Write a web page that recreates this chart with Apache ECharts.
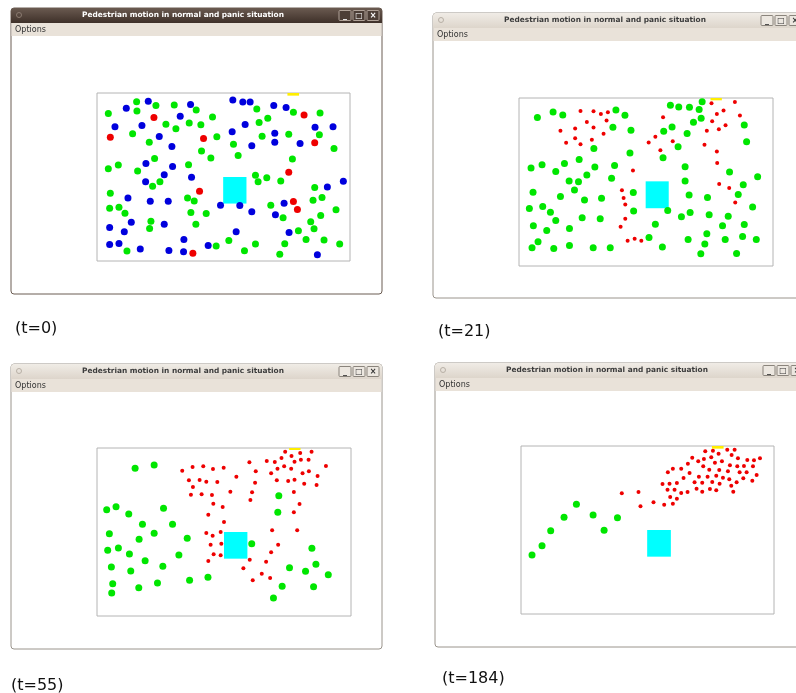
<!DOCTYPE html>
<html>
<head>
<meta charset="utf-8">
<script src="https://cdn.jsdelivr.net/npm/echarts@6/dist/echarts.min.js"></script>
<style>
html, body { margin: 0; padding: 0; background: #fff; }
#chart { width: 796px; height: 693px; }
</style>
</head>
<body>
<div id="chart"></div>
<script>
// snapshot labels
var times = ['(t=0)', '(t=21)', '(t=55)', '(t=184)']

// room extent for each snapshot [xmin, xmax, ymin, ymax] (screen units, y down)
var roomExtent = [
  [8, 768, 14, 520],
  [10, 770, 14, 520],
  [10, 770, 16, 520],
  [12, 770, 18, 522]
]
// obstacle (cyan) [x1, y1, x2, y2]
var obstacle = [
  [387, 267, 457, 347],
  [389, 265, 458, 346],
  [390, 268, 460, 348],
  [390, 270, 461, 350]
]
// exit door (yellow) [x1, y1, x2, y2]
var exitDoor = [
  [580, 8, 615, 22],
  [583, 8, 617, 21],
  [585, 10, 619, 22],
  [584, 12, 619, 26]
]

// t=0
var green0 = [[127,40],[185,52],[240,50],[42,76],[128,68],[306,65],[355,86],[488,62],[598,72],[678,74],[215,108],[285,104],[320,110],[245,122],[495,103],[521,90],[115,137],[165,162],[368,146],[418,168],[504,144],[584,138],[676,140],[720,181],[322,189],[350,210],[432,202],[181,211],[595,213],[42,242],[72,231],[130,249],[283,230],[484,262],[518,269],[492,281],[560,279],[175,295],[197,281],[48,316],[662,299],[280,330],[300,339],[684,329],[657,337],[46,361],[74,358],[92,376],[290,374],[336,377],[530,352],[726,366],[567,390],[680,383],[170,400],[166,422],[305,409],[650,402],[660,423],[613,429],[404,458],[636,455],[484,469],[572,468],[690,457],[737,469],[98,490],[366,475],[451,489],[557,500]]
var blue0 = [[162,39],[96,60],[289,49],[416,35],[446,41],[468,41],[539,52],[576,58],[258,84],[62,116],[143,112],[453,109],[663,117],[717,116],[195,145],[414,131],[542,135],[542,162],[618,166],[473,173],[233,175],[155,226],[235,235],[210,260],[292,268],[154,281],[700,297],[748,280],[101,330],[168,340],[222,340],[379,352],[437,353],[570,346],[473,372],[544,381],[111,403],[210,409],[46,419],[90,432],[426,432],[585,434],[269,455],[46,470],[74,467],[138,484],[224,488],[268,492],[342,473],[670,501]]
var red0 = [[179,88],[630,80],[48,147],[328,151],[662,164],[584,253],[316,310],[598,341],[610,365],[296,497]]

// t=21
var green1 = [[65,73],[112,56],[141,65],[300,50],[327,66],[463,36],[488,41],[520,42],[549,49],[558,25],[555,75],[532,87],[468,101],[443,114],[513,121],[684,95],[291,102],[345,111],[486,161],[691,146],[234,166],[342,180],[441,194],[46,225],[79,215],[146,211],[190,199],[237,222],[296,217],[120,235],[213,246],[160,264],[188,266],[287,256],[507,221],[507,264],[640,237],[724,251],[681,275],[52,298],[134,311],[176,291],[206,321],[257,316],[352,299],[519,306],[574,314],[666,305],[41,347],[81,341],[104,358],[120,383],[199,375],[253,378],[353,354],[455,353],[496,372],[522,359],[579,366],[636,370],[709,342],[53,399],[93,413],[161,407],[418,394],[619,399],[684,395],[572,423],[67,447],[49,465],[114,467],[161,458],[232,465],[283,465],[399,434],[439,463],[516,440],[566,454],[627,440],[679,431],[720,440],[554,483],[661,482]]
var red1 = [[194,53],[233,54],[255,62],[276,57],[213,86],[272,82],[134,113],[178,106],[233,103],[263,122],[178,135],[151,149],[194,153],[228,140],[441,72],[418,131],[398,148],[470,144],[433,171],[586,30],[656,26],[602,62],[622,52],[671,67],[588,84],[628,96],[608,108],[572,113],[565,155],[602,175],[603,210],[351,232],[318,292],[323,315],[328,335],[328,378],[314,402],[335,444],[356,438],[376,444],[609,273],[639,285],[657,329]]

// t=55
var green2 = [[124,77],[181,67],[39,201],[67,192],[105,214],[209,197],[146,245],[236,245],[47,273],[181,272],[136,290],[280,287],[42,323],[74,316],[107,334],[154,354],[255,337],[53,373],[111,385],[207,371],[57,423],[135,435],[191,421],[287,413],[342,404],[54,451],[554,159],[551,209],[473,303],[653,317],[665,365],[586,375],[634,386],[702,396],[564,431],[658,432],[538,466]]
var red2 = [[265,84],[296,73],[328,71],[357,79],[389,75],[466,59],[485,86],[427,102],[285,113],[317,112],[337,117],[370,118],[297,133],[291,156],[323,155],[354,157],[409,147],[483,120],[474,149],[469,172],[358,183],[386,193],[343,216],[390,238],[337,271],[356,279],[380,268],[350,306],[382,303],[359,335],[380,338],[343,355],[467,351],[448,377],[476,413],[503,393],[528,406],[516,357],[531,329],[552,306],[534,263],[609,263],[599,209],[616,184],[599,148],[518,55],[542,58],[562,46],[573,27],[592,40],[618,31],[652,27],[620,51],[643,51],[601,57],[531,92],[550,78],[570,71],[591,78],[625,92],[644,86],[548,113],[582,115],[601,111],[630,123],[667,127],[670,100],[695,70]]

// t=184
var green3 = [[45,345],[75,317],[101,272],[141,232],[178,193],[228,225],[261,271],[301,233]]
var red3 = [[314,160],[364,156],[370,199],[409,187],[441,194],[467,191],[459,171],[479,176],[492,159],[511,156],[451,149],[472,149],[436,132],[457,131],[479,129],[452,97],[467,86],[492,86],[499,114],[512,71],[517,99],[525,53],[532,127],[543,64],[545,110],[538,146],[555,128],[558,79],[555,155],[564,34],[560,57],[578,147],[571,110],[576,89],[585,126],[582,52],[587,32],[597,151],[597,107],[593,68],[604,41],[607,131],[606,90],[614,64],[617,113],[630,29],[632,94],[636,118],[638,76],[642,137],[643,45],[652,29],[648,155],[658,127],[660,79],[662,55],[667,97],[678,115],[680,78],[688,97],[690,60],[705,122],[707,79],[710,61],[718,105],[728,55]]

var greens = [green0, green1, green2, green3]
var blues = [blue0, [], [], []]
var reds = [red0, red1, red2, red3]
var redSize = [7, 4, 4, 4]

// layout of the four screenshots (pixels)
var win = [
  { x: 11, y: 8, w: 371, h: 286, active: true, plot: [97, 93, 253, 168], label: [15, 329] },
  { x: 433, y: 13, w: 370, h: 285, active: false, plot: [519, 98, 254, 168], label: [438, 332] },
  { x: 11, y: 364, w: 371, h: 285, active: false, plot: [97, 448, 254, 168], label: [11, 686] },
  { x: 435, y: 363, w: 370, h: 284, active: false, plot: [521, 446, 253, 168], label: [442, 679] }
]

var myChart = echarts.init(document.getElementById('chart'))

var grids = [], xAxes = [], yAxes = [], series = [], graphics = []

win.forEach(function (w, i) {
  var ext = roomExtent[i]
  grids.push({
    left: w.plot[0], top: w.plot[1], width: w.plot[2], height: w.plot[3],
    show: true, borderColor: '#b4b4b4', borderWidth: 1, backgroundColor: 'transparent'
  })
  xAxes.push({ gridIndex: i, type: 'value', min: ext[0], max: ext[1], show: false })
  yAxes.push({ gridIndex: i, type: 'value', min: ext[2], max: ext[3], inverse: true, show: false })

  var ob = obstacle[i], ex = exitDoor[i]
  series.push({
    type: 'scatter', xAxisIndex: i, yAxisIndex: i, data: greens[i],
    symbolSize: 7, itemStyle: { color: '#00e600', opacity: 1 }, silent: true,
    markArea: {
      silent: true,
      data: [
        [{ coord: [ob[0], ob[1]], itemStyle: { color: '#00ffff', opacity: 1 } }, { coord: [ob[2], ob[3]] }],
        [{ coord: [ex[0], ex[1]], itemStyle: { color: '#ffee00', opacity: 1 } }, { coord: [ex[2], ex[3]] }]
      ]
    }
  })
  series.push({
    type: 'scatter', xAxisIndex: i, yAxisIndex: i, data: blues[i],
    symbolSize: 7, itemStyle: { color: '#0000dd', opacity: 1 }, silent: true
  })
  series.push({
    type: 'scatter', xAxisIndex: i, yAxisIndex: i, data: reds[i],
    symbolSize: redSize[i], itemStyle: { color: '#ee0000', opacity: 1 }, silent: true
  })

  // window frame
  graphics.push({
    type: 'rect', z: -10,
    shape: { x: w.x, y: w.y, width: w.w, height: w.h, r: 3 },
    style: { fill: '#ffffff', stroke: w.active ? '#6b5c52' : '#9a948c', lineWidth: 1 }
  })
  // title bar
  graphics.push({
    type: 'rect', z: -9,
    shape: { x: w.x, y: w.y, width: w.w, height: 15, r: [3, 3, 0, 0] },
    style: {
      fill: w.active
        ? { type: 'linear', x: 0, y: 0, x2: 0, y2: 1, colorStops: [{ offset: 0, color: '#6a5a50' }, { offset: 1, color: '#3e3029' }] }
        : { type: 'linear', x: 0, y: 0, x2: 0, y2: 1, colorStops: [{ offset: 0, color: '#f0ece6' }, { offset: 1, color: '#ddd5cb' }] }
    }
  })
  // menu bar
  graphics.push({
    type: 'rect', z: -9,
    shape: { x: w.x + 0.5, y: w.y + 15, width: w.w - 1, height: 13 },
    style: { fill: '#e9e2d9' }
  })
  graphics.push({
    type: 'text', z: -8, x: w.x + 4, y: w.y + 21.5,
    style: { text: 'Options', fill: '#333', font: '8px "DejaVu Sans"', verticalAlign: 'middle' }
  })
  graphics.push({
    type: 'text', z: -8, x: w.x + 172, y: w.y + 7.5,
    style: {
      text: 'Pedestrian motion in normal and panic situation',
      fill: w.active ? '#ffffff' : '#3c3c3c',
      font: 'bold 7.4px "DejaVu Sans"', align: 'center', verticalAlign: 'middle'
    }
  })
  // small circle at title bar left
  graphics.push({
    type: 'circle', z: -8, shape: { cx: w.x + 8, cy: w.y + 7, r: 2.5 },
    style: { fill: 'none', stroke: w.active ? '#8a7a70' : '#b8b0a6', lineWidth: 1 }
  })
  // window buttons
  for (var b = 0; b < 3; b++) {
    graphics.push({
      type: 'rect', z: -8,
      shape: { x: w.x + 328 + b * 14, y: w.y + 2.5, width: 12, height: 10, r: 1 },
      style: {
        fill: w.active ? '#4c3e36' : '#ece7e0',
        stroke: w.active ? '#b0a298' : '#8a847c', lineWidth: 1
      }
    })
    graphics.push({
      type: 'text', z: -7, x: w.x + 334 + b * 14, y: w.y + 7.5,
      style: {
        text: ['_', '□', '×'][b], fill: w.active ? '#fff' : '#333',
        font: 'bold 8px "DejaVu Sans"', align: 'center', verticalAlign: 'middle'
      }
    })
  }
  // snapshot label
  graphics.push({
    type: 'text', z: -8, x: w.label[0], y: w.label[1],
    style: { text: times[i], fill: '#111', font: '16px "DejaVu Sans"', verticalAlign: 'middle' }
  })
})

var option = {
  backgroundColor: '#ffffff',
  animation: false,
  grid: grids,
  xAxis: xAxes,
  yAxis: yAxes,
  graphic: graphics,
  series: series
}
myChart.setOption(option)
</script>
</body>
</html>
